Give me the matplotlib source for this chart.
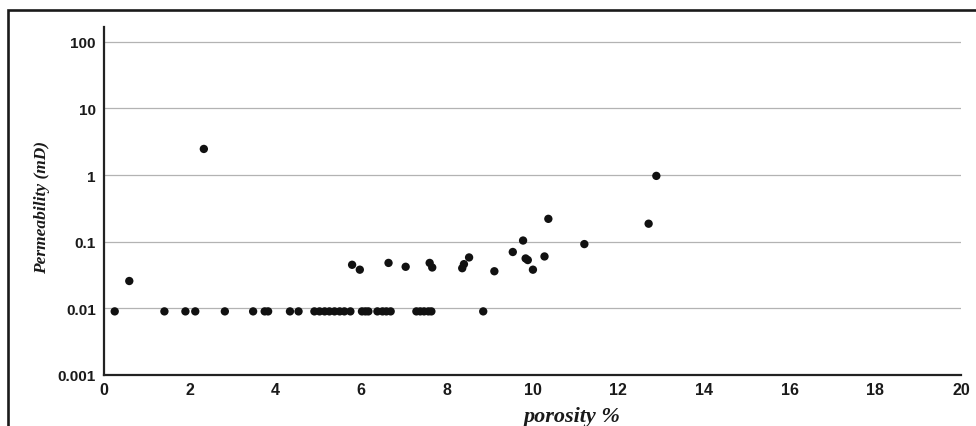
import matplotlib
matplotlib.use("Agg")
import matplotlib.pyplot as plt
from matplotlib.patches import Rectangle
from matplotlib.ticker import FixedLocator, FixedFormatter

# ---- data ----
porosity = [0.25, 0.59, 1.41, 1.90, 2.13, 2.33, 2.82, 3.48, 3.75, 3.83, 4.34, 4.54,
            4.91, 5.03, 5.15, 5.26, 5.38, 5.50, 5.61, 5.75,
            5.79, 5.97, 6.02, 6.10, 6.17, 6.38, 6.50, 6.59, 6.64, 6.69,
            7.04, 7.29, 7.38, 7.47, 7.57, 7.60, 7.64, 7.66,
            8.36, 8.40, 8.52, 8.85, 9.11, 9.54, 9.78, 9.84, 9.89,
            10.01, 10.28, 10.37, 11.21, 12.71, 12.89]
permeability = [0.009, 0.0257, 0.009, 0.009, 0.009, 2.46, 0.009, 0.009, 0.009, 0.009, 0.009, 0.009,
                0.009, 0.009, 0.009, 0.009, 0.009, 0.009, 0.009, 0.009,
                0.045, 0.038, 0.009, 0.009, 0.009, 0.009, 0.009, 0.009, 0.048, 0.009,
                0.042, 0.009, 0.009, 0.009, 0.009, 0.048, 0.009, 0.041,
                0.040, 0.046, 0.058, 0.009, 0.036, 0.070, 0.104, 0.056, 0.053,
                0.038, 0.060, 0.22, 0.092, 0.186, 0.97]

x_ticks = [0, 2, 4, 6, 8, 10, 12, 14, 16, 18, 20]
x_tick_labels = ["0", "2", "4", "6", "8", "10", "12", "14", "16", "18", "20"]
y_ticks = [0.001, 0.01, 0.1, 1, 10, 100]
y_tick_labels = ["0.001", "0.01", "0.1", "1", "10", "100"]

W, H = 976, 427
fig = plt.figure(figsize=(W / 100, H / 100), dpi=100)
fig.patch.set_facecolor("white")

# outer frame (cropped at right and bottom)
fig.patches.append(Rectangle((8 / W, -0.1), 1.2, 1 - 11 / H + 0.1, transform=fig.transFigure,
                             fill=False, edgecolor="#1a1a1a", linewidth=1.9, zorder=0))

ax = fig.add_axes([104 / W, 1 - 376 / H, (961 - 104) / W, (376 - 28) / H])
ax.set_yscale("log")
ax.set_xlim(0, 20)
ax.set_ylim(0.001, 166)

for y in y_ticks[1:]:
    ax.axhline(y, color="#b3b3b3", linewidth=0.9, zorder=1)

ax.scatter(porosity, permeability, s=36, color="#111111", edgecolors="none", zorder=3)

for s in ["top", "right"]:
    ax.spines[s].set_visible(False)
for s in ["left", "bottom"]:
    ax.spines[s].set_linewidth(1.6)
    ax.spines[s].set_color("#222222")

ax.xaxis.set_major_locator(FixedLocator(x_ticks))
ax.xaxis.set_major_formatter(FixedFormatter(x_tick_labels))
ax.yaxis.set_major_locator(FixedLocator(y_ticks))
ax.yaxis.set_major_formatter(FixedFormatter(y_tick_labels))
ax.yaxis.set_minor_locator(FixedLocator([]))
ax.tick_params(axis="both", length=0, colors="#1a1a1a")
ax.tick_params(axis="x", pad=5, labelsize=11.5)
ax.tick_params(axis="y", pad=6, labelsize=11)
for lab in ax.get_xticklabels() + ax.get_yticklabels():
    lab.set_fontfamily("Liberation Sans")
    lab.set_fontweight("bold")

fig.text(42 / W, 1 - 207 / H, "Permeability (mD)", rotation=90, ha="center", va="center",
         fontfamily="Liberation Serif", fontstyle="italic", fontweight="bold",
         fontsize=12.5, color="#1a1a1a")
fig.text(572 / W, 1 - 422 / H, "porosity %", ha="center", va="baseline",
         fontfamily="Liberation Serif", fontstyle="italic", fontweight="bold",
         fontsize=16, color="#1a1a1a")

fig.savefig("out.png", dpi=100)
